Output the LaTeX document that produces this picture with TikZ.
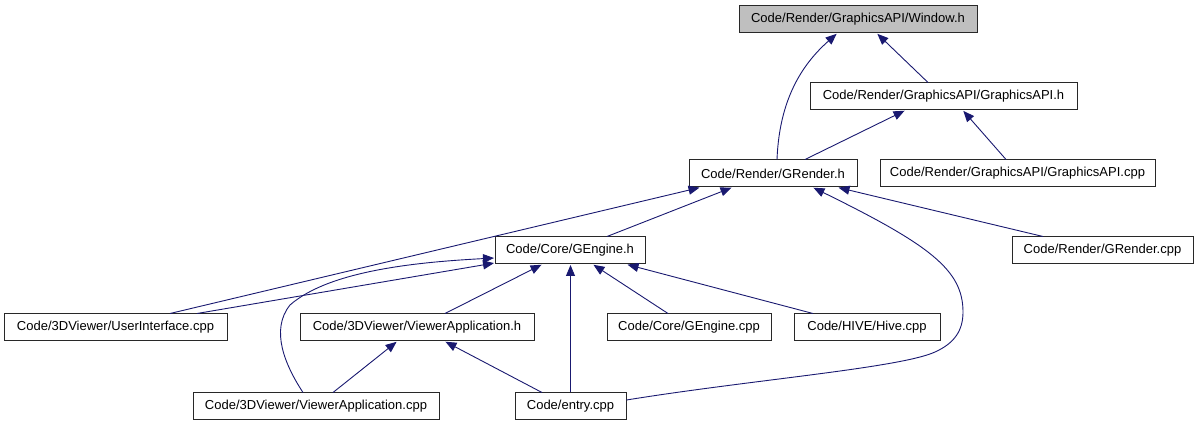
\documentclass[tikz,border=0pt]{standalone}
\usepackage{fontspec}
\setmainfont{Liberation Sans}
\usetikzlibrary{arrows.meta}
\definecolor{edgecol}{RGB}{25,25,112}
\definecolor{boxline}{RGB}{40,40,40}
\begin{document}
\begin{tikzpicture}[x=1pt,y=-1pt,
  box/.style={draw=boxline, line width=1pt, fill=white, inner sep=0pt,
    minimum height=27pt, font=\fontsize{13}{15}\selectfont, anchor=center},
  edge/.style={draw=edgecol, line width=0.9pt, -{Triangle[length=11pt,width=9pt]}, shorten >=0.5pt}]
\useasboundingbox (0,0) rectangle (1197,427);
\node[box, fill={rgb,255:red,191;green,191;blue,191}, minimum width=238pt] (win) at (858,19.5) {Code/Render/GraphicsAPI/Window.h};
\node[box, minimum width=267pt] (gapi) at (943.5,96.5) {Code/Render/GraphicsAPI/GraphicsAPI.h};
\node[box, minimum width=168pt] (grh) at (773,173.5) {Code/Render/GRender.h};
\node[box, minimum width=275pt] (gapicpp) at (1017.5,173.5) {Code/Render/GraphicsAPI/GraphicsAPI.cpp};
\node[box, minimum width=181pt] (grcpp) at (1102.5,250.5) {Code/Render/GRender.cpp};
\node[box, minimum width=150pt] (geh) at (570,250.5) {Code/Core/GEngine.h};
\node[box, minimum width=223pt] (ui) at (115.5,327.5) {Code/3DViewer/UserInterface.cpp};
\node[box, minimum width=234pt] (vah) at (417,327.5) {Code/3DViewer/ViewerApplication.h};
\node[box, minimum width=164pt] (gecpp) at (689,327.5) {Code/Core/GEngine.cpp};
\node[box, minimum width=146pt] (hive) at (867,327.5) {Code/HIVE/Hive.cpp};
\node[box, minimum width=246pt] (vacpp) at (316,406.5) {Code/3DViewer/ViewerApplication.cpp};
\node[box, minimum width=111pt] (entry) at (570.5,406.5) {Code/entry.cpp};

\draw[edge] ([xshift=-15.5pt]gapi.north) -- ([xshift=19pt]win.south);
\draw[edge] ([xshift=4pt]grh.north) .. controls +(2,-50) and +(-42,37) .. ([xshift=-21pt]win.south);
\draw[edge] ([xshift=32pt]grh.north) -- ([xshift=-38.5pt]gapi.south);
\draw[edge] ([xshift=-11.5pt]gapicpp.north) -- ([xshift=19.5pt]gapi.south);
\draw[edge] ([xshift=54.5pt]ui.north) -- ([xshift=-73pt]grh.south);
\draw[edge] ([xshift=37pt]geh.north) -- ([xshift=-41pt]grh.south);
\draw[edge] ([xshift=-59.5pt]grcpp.north) -- ([xshift=65pt]grh.south);
\coordinate (bendA) at (935,352);
\coordinate (bendB) at (963,312);
\draw[edge] ([yshift=6.5pt]entry.east) .. controls (750,380) and (900,368) .. (bendA)
  .. controls (955,343) and (963,330) .. (bendB)
  .. controls (963,270) and (930,245) .. ([xshift=40pt]grh.south);
\draw[edge] ([xshift=81.5pt]ui.north) -- ([yshift=-12.5pt]geh.west);
\coordinate (vbend) at (290,305);
\draw[edge] ([xshift=-13pt]vacpp.north) .. controls (285,365) and (270,330) .. (vbend)
  .. controls (330,270) and (420,262) .. ([yshift=-7.5pt]geh.west);
\draw[edge] ([xshift=28pt]vah.north) -- ([xshift=-28pt]geh.south);
\draw[edge] (entry.north) -- ([xshift=0.5pt]geh.south);
\draw[edge] ([xshift=-21pt]gecpp.north) -- ([xshift=23pt]geh.south);
\draw[edge] ([xshift=-54pt]hive.north) -- ([xshift=57pt]geh.south);
\draw[edge] ([xshift=17pt]vacpp.north) -- ([xshift=-20pt]vah.south);
\draw[edge] ([xshift=-28.5pt]entry.north) -- ([xshift=28pt]vah.south);
\end{tikzpicture}
\end{document}
